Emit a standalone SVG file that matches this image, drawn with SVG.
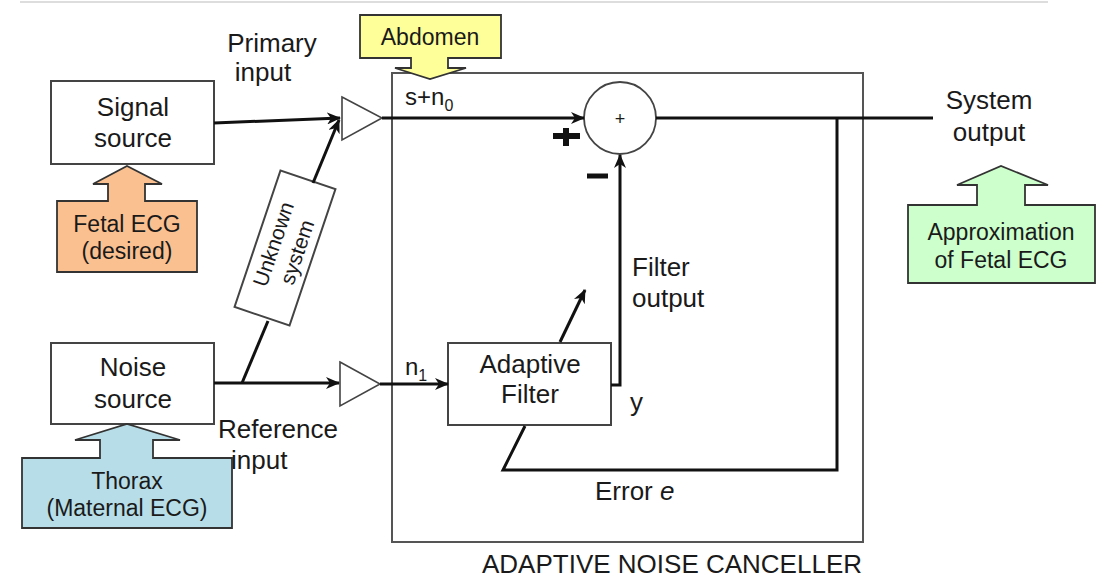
<svg xmlns="http://www.w3.org/2000/svg" width="1104" height="580" viewBox="0 0 1104 580">
<style>
text{font-family:"Liberation Sans",Arial,sans-serif;fill:#1a1a1a}
.box{fill:#fff;stroke:#444;stroke-width:2}
.lbl{font-size:26px}
.sm{font-size:23px}
.sig{fill:none;stroke:#111;stroke-width:3}
.thin{fill:none;stroke:#444;stroke-width:1.6}
.call{stroke:#333;stroke-width:1.8}
</style>
<defs>
<marker id="ah" markerUnits="userSpaceOnUse" markerWidth="14" markerHeight="12" refX="13" refY="6" orient="auto">
<path d="M0,0 L14,6 L0,12 L4,6 Z" fill="#111"/>
</marker>
</defs>
<rect width="1104" height="580" fill="#fff"/>
<line x1="20" y1="2" x2="1048" y2="2" stroke="#ddd" stroke-width="2"/>

<g id="anc">
<rect x="392" y="73" width="471" height="469" fill="none" stroke="#555" stroke-width="2"/>
<text x="672" y="573" text-anchor="middle" style="font-size:26px">ADAPTIVE NOISE CANCELLER</text>
</g>

<g id="abdomen">
<path class="call" d="M360,15 L501,15 L501,58 L448,58 L448,68 L466,68 L430,79 L395,68 L411,68 L411,58 L360,58 Z" fill="#FFFF99"/>
<text x="430" y="45" text-anchor="middle" class="sm">Abdomen</text>
</g>

<g id="signal-source">
<rect class="box" x="51" y="81" width="163" height="83"/>
<text x="133" y="116" text-anchor="middle" class="lbl">Signal</text>
<text x="133" y="147" text-anchor="middle" class="lbl">source</text>
</g>

<g id="fetal-ecg">
<path class="call" d="M57,201 L108,201 L108,184 L93,184 L127,166 L162,184 L145,184 L145,201 L197,201 L197,272 L57,272 Z" fill="#FAC090"/>
<text x="127" y="232" text-anchor="middle" class="sm">Fetal ECG</text>
<text x="127" y="259" text-anchor="middle" class="sm">(desired)</text>
</g>

<g id="noise-source">
<rect class="box" x="51" y="343" width="163" height="81"/>
<text x="133" y="376" text-anchor="middle" class="lbl">Noise</text>
<text x="133" y="408" text-anchor="middle" class="lbl">source</text>
</g>

<g id="thorax">
<path class="call" d="M22,458 L100,458 L100,440 L75,440 L127,424 L180,440 L153,440 L153,458 L232,458 L232,528 L22,528 Z" fill="#B7DEE8"/>
<text x="127" y="489" text-anchor="middle" class="sm">Thorax</text>
<text x="127" y="516" text-anchor="middle" class="sm">(Maternal ECG)</text>
</g>

<g id="approx">
<path class="call" d="M908,205 L977,205 L977,185 L957,185 L1001,166 L1048,185 L1025,185 L1025,205 L1095,205 L1095,283 L908,283 Z" fill="#CCFFCC"/>
<text x="1001" y="240" text-anchor="middle" class="sm">Approximation</text>
<text x="1001" y="268" text-anchor="middle" class="sm">of Fetal ECG</text>
</g>

<g id="amp-primary">
<path class="thin" d="M342,97 L382,118 L342,140 Z" fill="#fff"/>
</g>
<g id="amp-reference">
<path class="thin" d="M340,362 L380,384 L340,406 Z" fill="#fff"/>
</g>

<g id="unknown-system">
<g transform="translate(285,248) rotate(-71.4)">
<rect class="box" x="-72" y="-29" width="144" height="58" stroke-width="1.8"/>
<text x="0" y="-5" text-anchor="middle" style="font-size:21px">Unknown</text>
<text x="0" y="20" text-anchor="middle" style="font-size:21px">system</text>
</g>
</g>

<g id="summer">
<circle cx="620" cy="118" r="36" fill="#fff" stroke="#444" stroke-width="1.8"/>
<text x="620" y="125" text-anchor="middle" style="font-size:18px">+</text>
<path d="M553,136 L580,136 M566,128 L566,146" stroke="#111" stroke-width="6"/>
<path d="M587,176 L608,176" stroke="#111" stroke-width="5"/>
</g>

<g id="adaptive-filter">
<rect class="box" x="448" y="343" width="163" height="82"/>
<text x="530" y="373" text-anchor="middle" class="lbl">Adaptive</text>
<text x="530" y="403" text-anchor="middle" class="lbl">Filter</text>
</g>

<g id="connectors">
<line class="sig" x1="214" y1="123" x2="340" y2="118" marker-end="url(#ah)"/>
<line class="sig" x1="313" y1="183" x2="339" y2="120" marker-end="url(#ah)"/>
<line class="sig" x1="242" y1="383" x2="268" y2="321"/>
<line class="sig" x1="214" y1="383" x2="339" y2="383" marker-end="url(#ah)"/>
<line class="sig" x1="382" y1="118" x2="584" y2="118" marker-end="url(#ah)"/>
<line class="sig" x1="380" y1="384" x2="448" y2="384" marker-end="url(#ah)"/>
<polyline class="sig" points="611,385 620,385 620,155" marker-end="url(#ah)"/>
<line class="sig" x1="656" y1="118" x2="933" y2="118"/>
<polyline class="sig" points="837,118 837,470 503,470 525,426"/>
<line class="sig" x1="560" y1="342" x2="585" y2="290" marker-end="url(#ah)"/>
</g>

<g id="labels">
<text x="272" y="52" text-anchor="middle" class="lbl">Primary</text>
<text x="263" y="81" text-anchor="middle" class="lbl">input</text>
<text x="405" y="105" style="font-size:24px">s+n<tspan dy="6" style="font-size:16px">0</tspan></text>
<text x="405" y="375" style="font-size:24px">n<tspan dy="6" style="font-size:16px">1</tspan></text>
<text x="632" y="276" class="lbl">Filter</text>
<text x="632" y="307" class="lbl">output</text>
<text x="630" y="411" class="lbl">y</text>
<text x="595" y="500" class="lbl">Error <tspan font-style="italic">e</tspan></text>
<text x="218" y="438" class="lbl">Reference</text>
<text x="231" y="469" class="lbl">input</text>
<text x="989" y="109" text-anchor="middle" class="lbl">System</text>
<text x="989" y="141" text-anchor="middle" class="lbl">output</text>
</g>
</svg>
